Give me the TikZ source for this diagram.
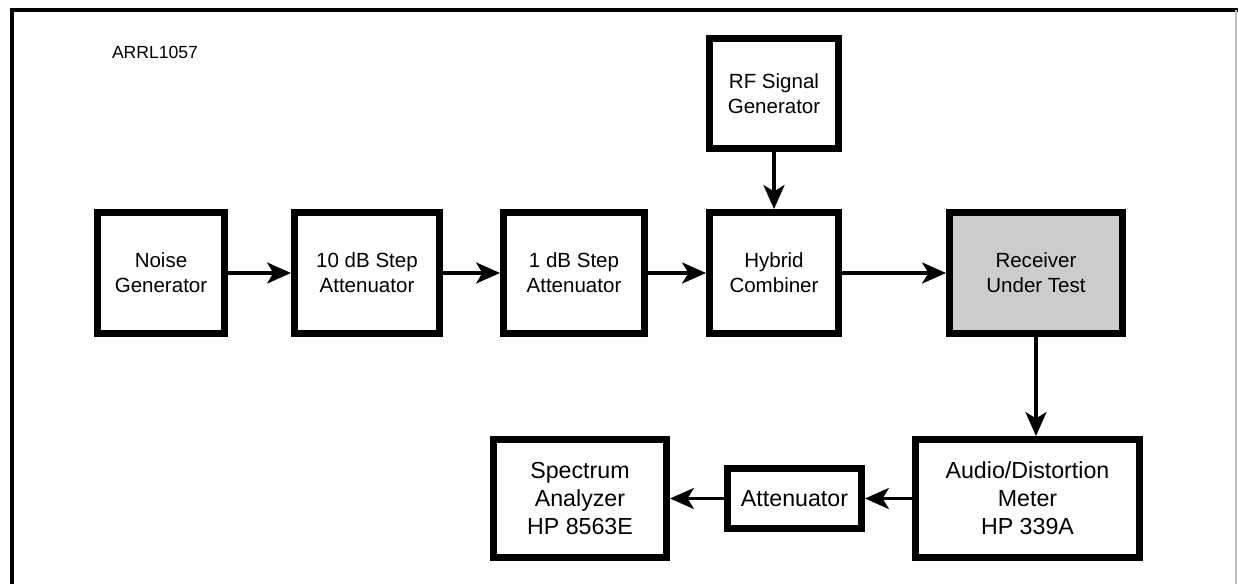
\documentclass[tikz,border=0pt]{standalone}
\usepackage{fontspec}
\setmainfont{Liberation Sans}
\usetikzlibrary{positioning,arrows.meta,calc}
\tikzset{
  block/.style={draw=black,line width=5pt,fill=white,align=center,inner sep=0pt,font=\fontsize{14.6}{18}\selectfont},
  bigblock/.style={block,font=\fontsize{16.5}{20}\selectfont},
  flow/.style={-{Stealth[length=17pt,width=15pt,inset=4.5pt]},line width=2.2pt,draw=black}
}

\begin{document}
\begin{tikzpicture}[x=0.025cm,y=-0.025cm]
\useasboundingbox (0,0) rectangle (1238,584);
% Marco
\draw[line width=3pt] (12,584) -- (12,10) -- (1238,10);
\draw[black!25,line width=0.8pt] (1236,10) -- (1236,584);
\node[font=\fontsize{12.5}{14}\selectfont] (tag) at (155,52) {ARRL1057};

% Fila superior
\node[block,minimum width=3.175cm,minimum height=3.025cm] (noise) at (161,273) {Noise\\Generator};
\node[block,minimum width=3.625cm,minimum height=3.025cm] (att10) at (367,273) {10 dB Step\\Attenuator};
\node[block,minimum width=3.525cm,minimum height=3.025cm] (att1) at (574,273) {1 dB Step\\Attenuator};
\node[block,minimum width=3.225cm,minimum height=3.025cm] (hyb) at (774,273) {Hybrid\\Combiner};
\node[block,minimum width=3.225cm,minimum height=2.75cm] (rfgen) at (774,93.5) {RF Signal\\Generator};
\node[block,fill=black!20,minimum width=4.325cm,minimum height=3.025cm] (rut) at (1036,273) {Receiver\\Under Test};

% Fila inferior
\node[bigblock,minimum width=5.6cm,minimum height=2.95cm] (meter) at (1027.5,498.5) {Audio/Distortion\\Meter\\HP 339A};
\node[bigblock,minimum width=3.35cm,minimum height=1.5cm] (att) at (794.5,498.5) {Attenuator};
\node[bigblock,minimum width=4.325cm,minimum height=2.95cm] (spec) at (580,498.5) {Spectrum\\Analyzer\\HP 8563E};

\draw[flow] (noise.east) -- (att10.west);
\draw[flow] (att10.east) -- (att1.west);
\draw[flow] (att1.east) -- (hyb.west);
\draw[flow] (rfgen.south) -- (hyb.north);
\draw[flow] (hyb.east) -- (rut.west);
\draw[flow] (rut.south) -- (rut.south |- meter.north);
\draw[flow] (meter.west) -- (att.east);
\draw[flow] (att.west) -- (spec.east);
\end{tikzpicture}
\end{document}
